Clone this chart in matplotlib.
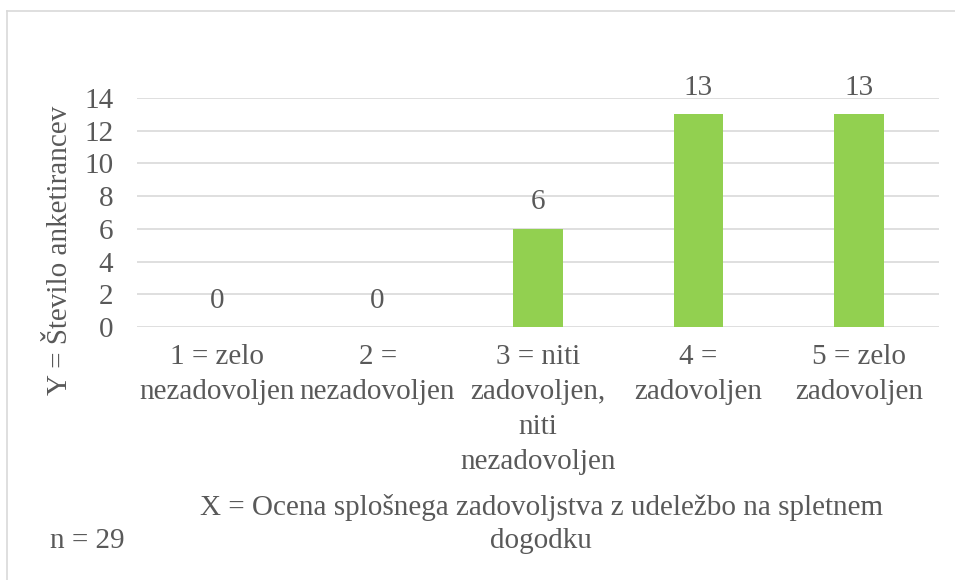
import matplotlib
matplotlib.use("Agg")
import matplotlib.pyplot as plt
from matplotlib.lines import Line2D

# -------------------------------
# Data
# -------------------------------
categories = [
    "1 = zelo\nnezadovoljen",
    "2 =\nnezadovoljen",
    "3 = niti\nzadovoljen,\nniti\nnezadovoljen",
    "4 =\nzadovoljen",
    "5 = zelo\nzadovoljen",
]
counts = [0, 0, 6, 13, 13]
y_ticks = [0, 2, 4, 6, 8, 10, 12, 14]

x_title = "X = Ocena splošnega zadovoljstva z udeležbo na spletnem\ndogodku"
y_title = "Y = Število anketirancev"
n_note = "n = 29"

TEXT = "#595959"
GRID = "#D9D9D9"
BAR = "#92D050"
FS = 21

plt.rcParams["font.family"] = ["Liberation Serif", "DejaVu Serif"]

W, H = 955, 580
fig = plt.figure(figsize=(W / 100, H / 100), dpi=100)

# chart border (top and left edges visible)
fig.add_artist(Line2D([7 / W, 1], [1 - 11 / H, 1 - 11 / H], color=GRID, lw=1.2,
                      transform=fig.transFigure))
fig.add_artist(Line2D([7 / W, 7 / W], [0, 1 - 11 / H], color=GRID, lw=1.2,
                      transform=fig.transFigure))

left, right, top, bottom = 137, 939, 98, 327
ax = fig.add_axes([left / W, 1 - bottom / H, (right - left) / W, (bottom - top) / H])

x = list(range(len(categories)))
ax.bar(x, counts, width=0.31, color=BAR, zorder=3)

for xi, v in zip(x, counts):
    ax.annotate(str(v), (xi, v), xytext=(0, 19), textcoords="offset points",
                ha="center", va="center", fontsize=FS, color=TEXT)

ax.set_xlim(-0.5, len(categories) - 0.5)
ax.set_ylim(0, 14)
ax.set_yticks(y_ticks)
ax.set_yticklabels([str(t) for t in y_ticks])
ax.set_xticks(x)
ax.set_xticklabels(categories, linespacing=1.45, va="top")
ax.tick_params(axis="both", length=0, labelsize=FS, labelcolor=TEXT)
ax.tick_params(axis="y", pad=17)
ax.tick_params(axis="x", pad=12)

ax.grid(axis="y", color=GRID, lw=1.2, zorder=0)
for s in ax.spines.values():
    s.set_visible(False)

# axis titles and note
fig.text(60 / W, 1 - 250 / H, y_title, rotation=90, ha="center", va="center",
         fontsize=FS, color=TEXT)
fig.text(541 / W, 1 - 524 / H, x_title, ha="center", va="center",
         fontsize=FS, color=TEXT, linespacing=1.37)
fig.text(50 / W, 1 - 541 / H, n_note, ha="left", va="center",
         fontsize=FS, color=TEXT)

fig.savefig("out.png", dpi=100)
